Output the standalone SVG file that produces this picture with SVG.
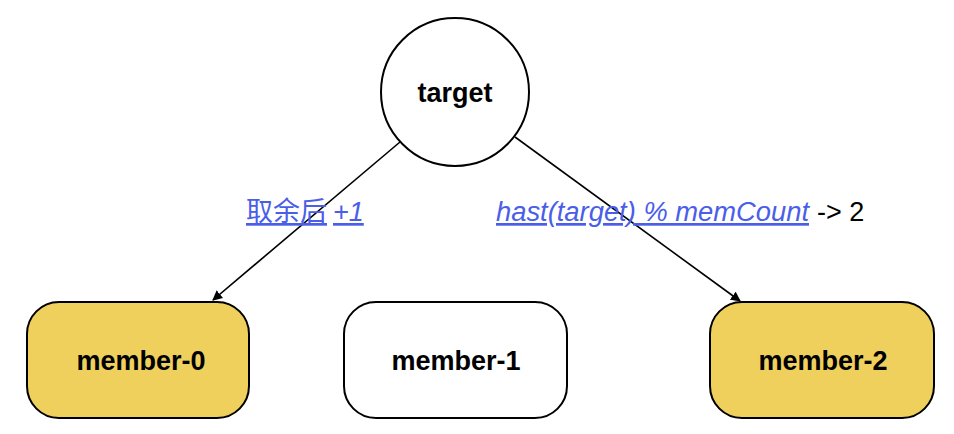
<svg xmlns="http://www.w3.org/2000/svg" width="954" height="434" viewBox="0 0 954 434">
<style>
.node{stroke:#000;stroke-width:2}
.lbl{font-family:"Liberation Sans","Noto Sans CJK SC",sans-serif;font-weight:bold;font-size:27px;text-anchor:middle;fill:#000}
.edge{stroke:#000;stroke-width:1.6;fill:none}
.link{font-family:"Liberation Sans","Noto Sans CJK SC",sans-serif;font-size:27px;fill:#4a5ee8;text-decoration:underline}
.plain{font-family:"Liberation Sans",sans-serif;font-size:27px;fill:#000}
</style>
<defs>
<marker id="arr" viewBox="0 0 10 10" refX="9" refY="5" markerWidth="10" markerHeight="10" orient="auto-start-reverse" markerUnits="userSpaceOnUse">
<path d="M0,0 L10,5 L0,10 z" fill="#000"/>
</marker>
</defs>
<g id="connectors">
<line class="edge" x1="400" y1="142" x2="213" y2="300" marker-end="url(#arr)"/>
<line class="edge" x1="515" y1="137" x2="740" y2="301" marker-end="url(#arr)"/>
<text class="link" x="246" y="221">取余后</text>
<text class="link" x="333" y="221" font-style="italic">+1</text>
<text class="link" x="496" y="221" font-style="italic" textLength="313" lengthAdjust="spacingAndGlyphs">hast(target) % memCount</text>
<text class="plain" x="817" y="221">-&gt; 2</text>
</g>
<g id="target">
<circle class="node" cx="455" cy="92" r="74" fill="#fff"/>
<text class="lbl" x="455" y="102">target</text>
</g>
<g id="member-0">
<rect class="node" x="27" y="302" width="222" height="116" rx="32" fill="#efd05c"/>
<text class="lbl" x="141" y="370">member-0</text>
</g>
<g id="member-1">
<rect class="node" x="344" y="302" width="223" height="116" rx="32" fill="#fff"/>
<text class="lbl" x="456" y="370">member-1</text>
</g>
<g id="member-2">
<rect class="node" x="710" y="302" width="224" height="116" rx="32" fill="#efd05c"/>
<text class="lbl" x="823" y="370">member-2</text>
</g>
</svg>
